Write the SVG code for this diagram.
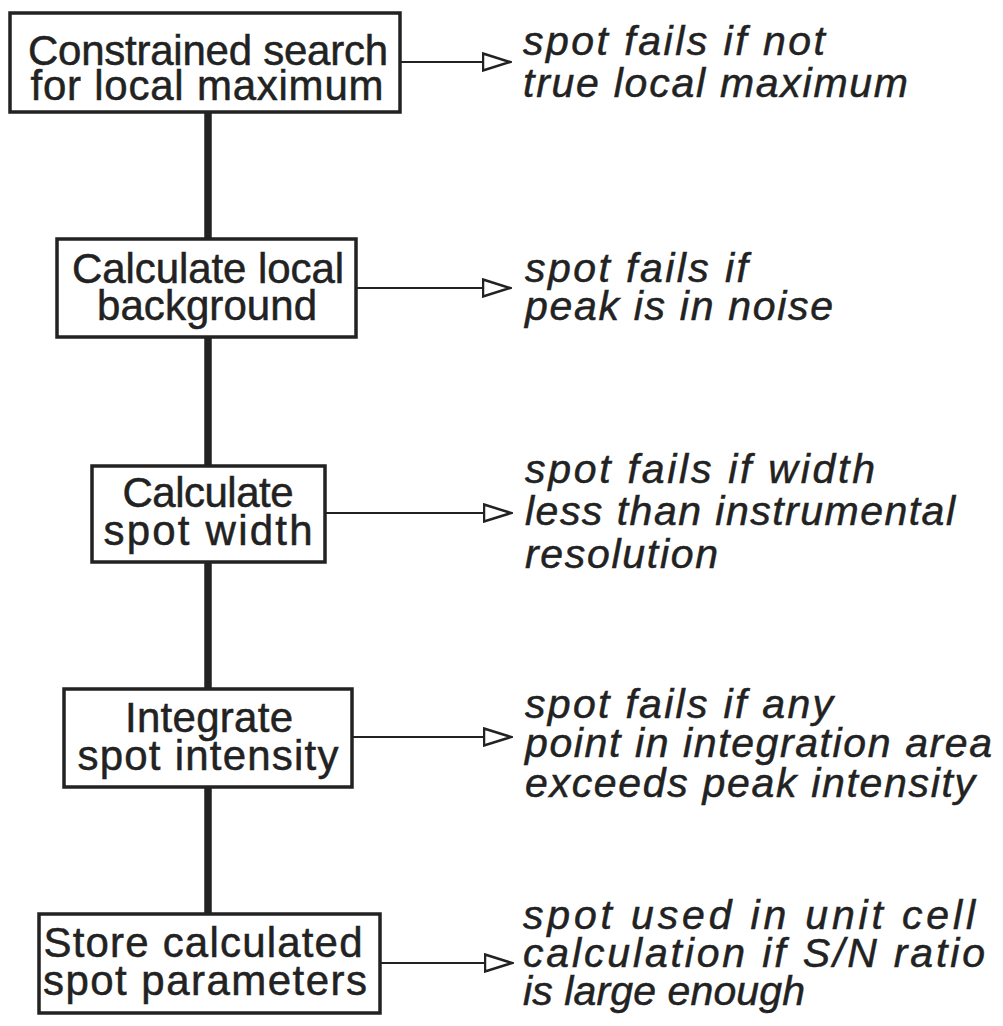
<svg xmlns="http://www.w3.org/2000/svg" width="1003" height="1026" viewBox="0 0 1003 1026">
<style>
.box{fill:#fff;stroke:#222;stroke-width:3.5}
.bt{font-family:"Liberation Sans",Arial,sans-serif;font-size:42px;fill:#222;stroke:#222;stroke-width:0.5;text-anchor:middle}
.nt{font-family:"Liberation Sans",Arial,sans-serif;font-size:41px;font-style:italic;fill:#222;stroke:#222;stroke-width:0.5}
.flow{stroke:#222;stroke-width:7.5;fill:none}
.arr{stroke:#222;stroke-width:2;fill:none;marker-end:url(#tri)}
</style>
<defs>
<marker id="tri" markerUnits="userSpaceOnUse" viewBox="0 0 30 20" markerWidth="30" markerHeight="20" refX="28.5" refY="10" orient="auto">
<path d="M1.5,1.5 L28.5,10 L1.5,18.5 Z" fill="#fff" stroke="#222" stroke-width="2.5" stroke-linejoin="miter"/>
</marker>
</defs>
<rect width="1003" height="1026" fill="#fff"/>
<g id="connectors">
<line class="flow" x1="208" y1="112" x2="208" y2="239"/>
<line class="flow" x1="208" y1="337" x2="208" y2="466"/>
<line class="flow" x1="208" y1="562" x2="208" y2="689"/>
<line class="flow" x1="208" y1="787" x2="208" y2="914"/>
<line class="arr" x1="400" y1="62" x2="510" y2="62"/>
<line class="arr" x1="356" y1="288" x2="510" y2="288"/>
<line class="arr" x1="325" y1="513" x2="511" y2="513"/>
<line class="arr" x1="352" y1="737" x2="511" y2="737"/>
<line class="arr" x1="380" y1="963" x2="512" y2="963"/>
</g>
<g id="n1">
<rect class="box" x="10" y="13" width="390" height="99"/>
<text class="bt" x="208" y="65" textLength="360" lengthAdjust="spacing">Constrained search</text>
<text class="bt" x="207" y="100" textLength="353" lengthAdjust="spacing">for local maximum</text>
</g>
<g id="n2">
<rect class="box" x="57" y="239" width="299" height="98"/>
<text class="bt" x="208" y="283" textLength="272" lengthAdjust="spacing">Calculate local</text>
<text class="bt" x="207" y="320" textLength="220" lengthAdjust="spacing">background</text>
</g>
<g id="n3">
<rect class="box" x="92" y="466" width="233" height="96"/>
<text class="bt" x="208" y="507" textLength="171" lengthAdjust="spacing">Calculate</text>
<text class="bt" x="208" y="545" textLength="209" lengthAdjust="spacing">spot width</text>
</g>
<g id="n4">
<rect class="box" x="64" y="689" width="288" height="98"/>
<text class="bt" x="209" y="732" textLength="168" lengthAdjust="spacing">Integrate</text>
<text class="bt" x="208" y="770" textLength="261" lengthAdjust="spacing">spot intensity</text>
</g>
<g id="n5">
<rect class="box" x="39" y="914" width="341" height="99"/>
<text class="bt" x="203" y="957" textLength="319" lengthAdjust="spacing">Store calculated</text>
<text class="bt" x="205" y="995" textLength="324" lengthAdjust="spacing">spot parameters</text>
</g>
<g id="r1">
<text class="nt" x="523" y="55" textLength="302" lengthAdjust="spacing">spot fails if not</text>
<text class="nt" x="523" y="97" textLength="385" lengthAdjust="spacing">true local maximum</text>
</g>
<g id="r2">
<text class="nt" x="525" y="282" textLength="223" lengthAdjust="spacing">spot fails if</text>
<text class="nt" x="525" y="320" textLength="308" lengthAdjust="spacing">peak is in noise</text>
</g>
<g id="r3">
<text class="nt" x="525" y="483" textLength="350" lengthAdjust="spacing">spot fails if width</text>
<text class="nt" x="525" y="525" textLength="430" lengthAdjust="spacing">less than instrumental</text>
<text class="nt" x="525" y="568" textLength="193" lengthAdjust="spacing">resolution</text>
</g>
<g id="r4">
<text class="nt" x="525" y="718" textLength="308" lengthAdjust="spacing">spot fails if any</text>
<text class="nt" x="525" y="757" textLength="467" lengthAdjust="spacing">point in integration area</text>
<text class="nt" x="525" y="797" textLength="450" lengthAdjust="spacing">exceeds peak intensity</text>
</g>
<g id="r5">
<text class="nt" x="523" y="929" textLength="452" lengthAdjust="spacing">spot used in unit cell</text>
<text class="nt" x="523" y="967" textLength="462" lengthAdjust="spacing">calculation if S/N ratio</text>
<text class="nt" x="523" y="1005" textLength="282" lengthAdjust="spacing">is large enough</text>
</g>
</svg>
